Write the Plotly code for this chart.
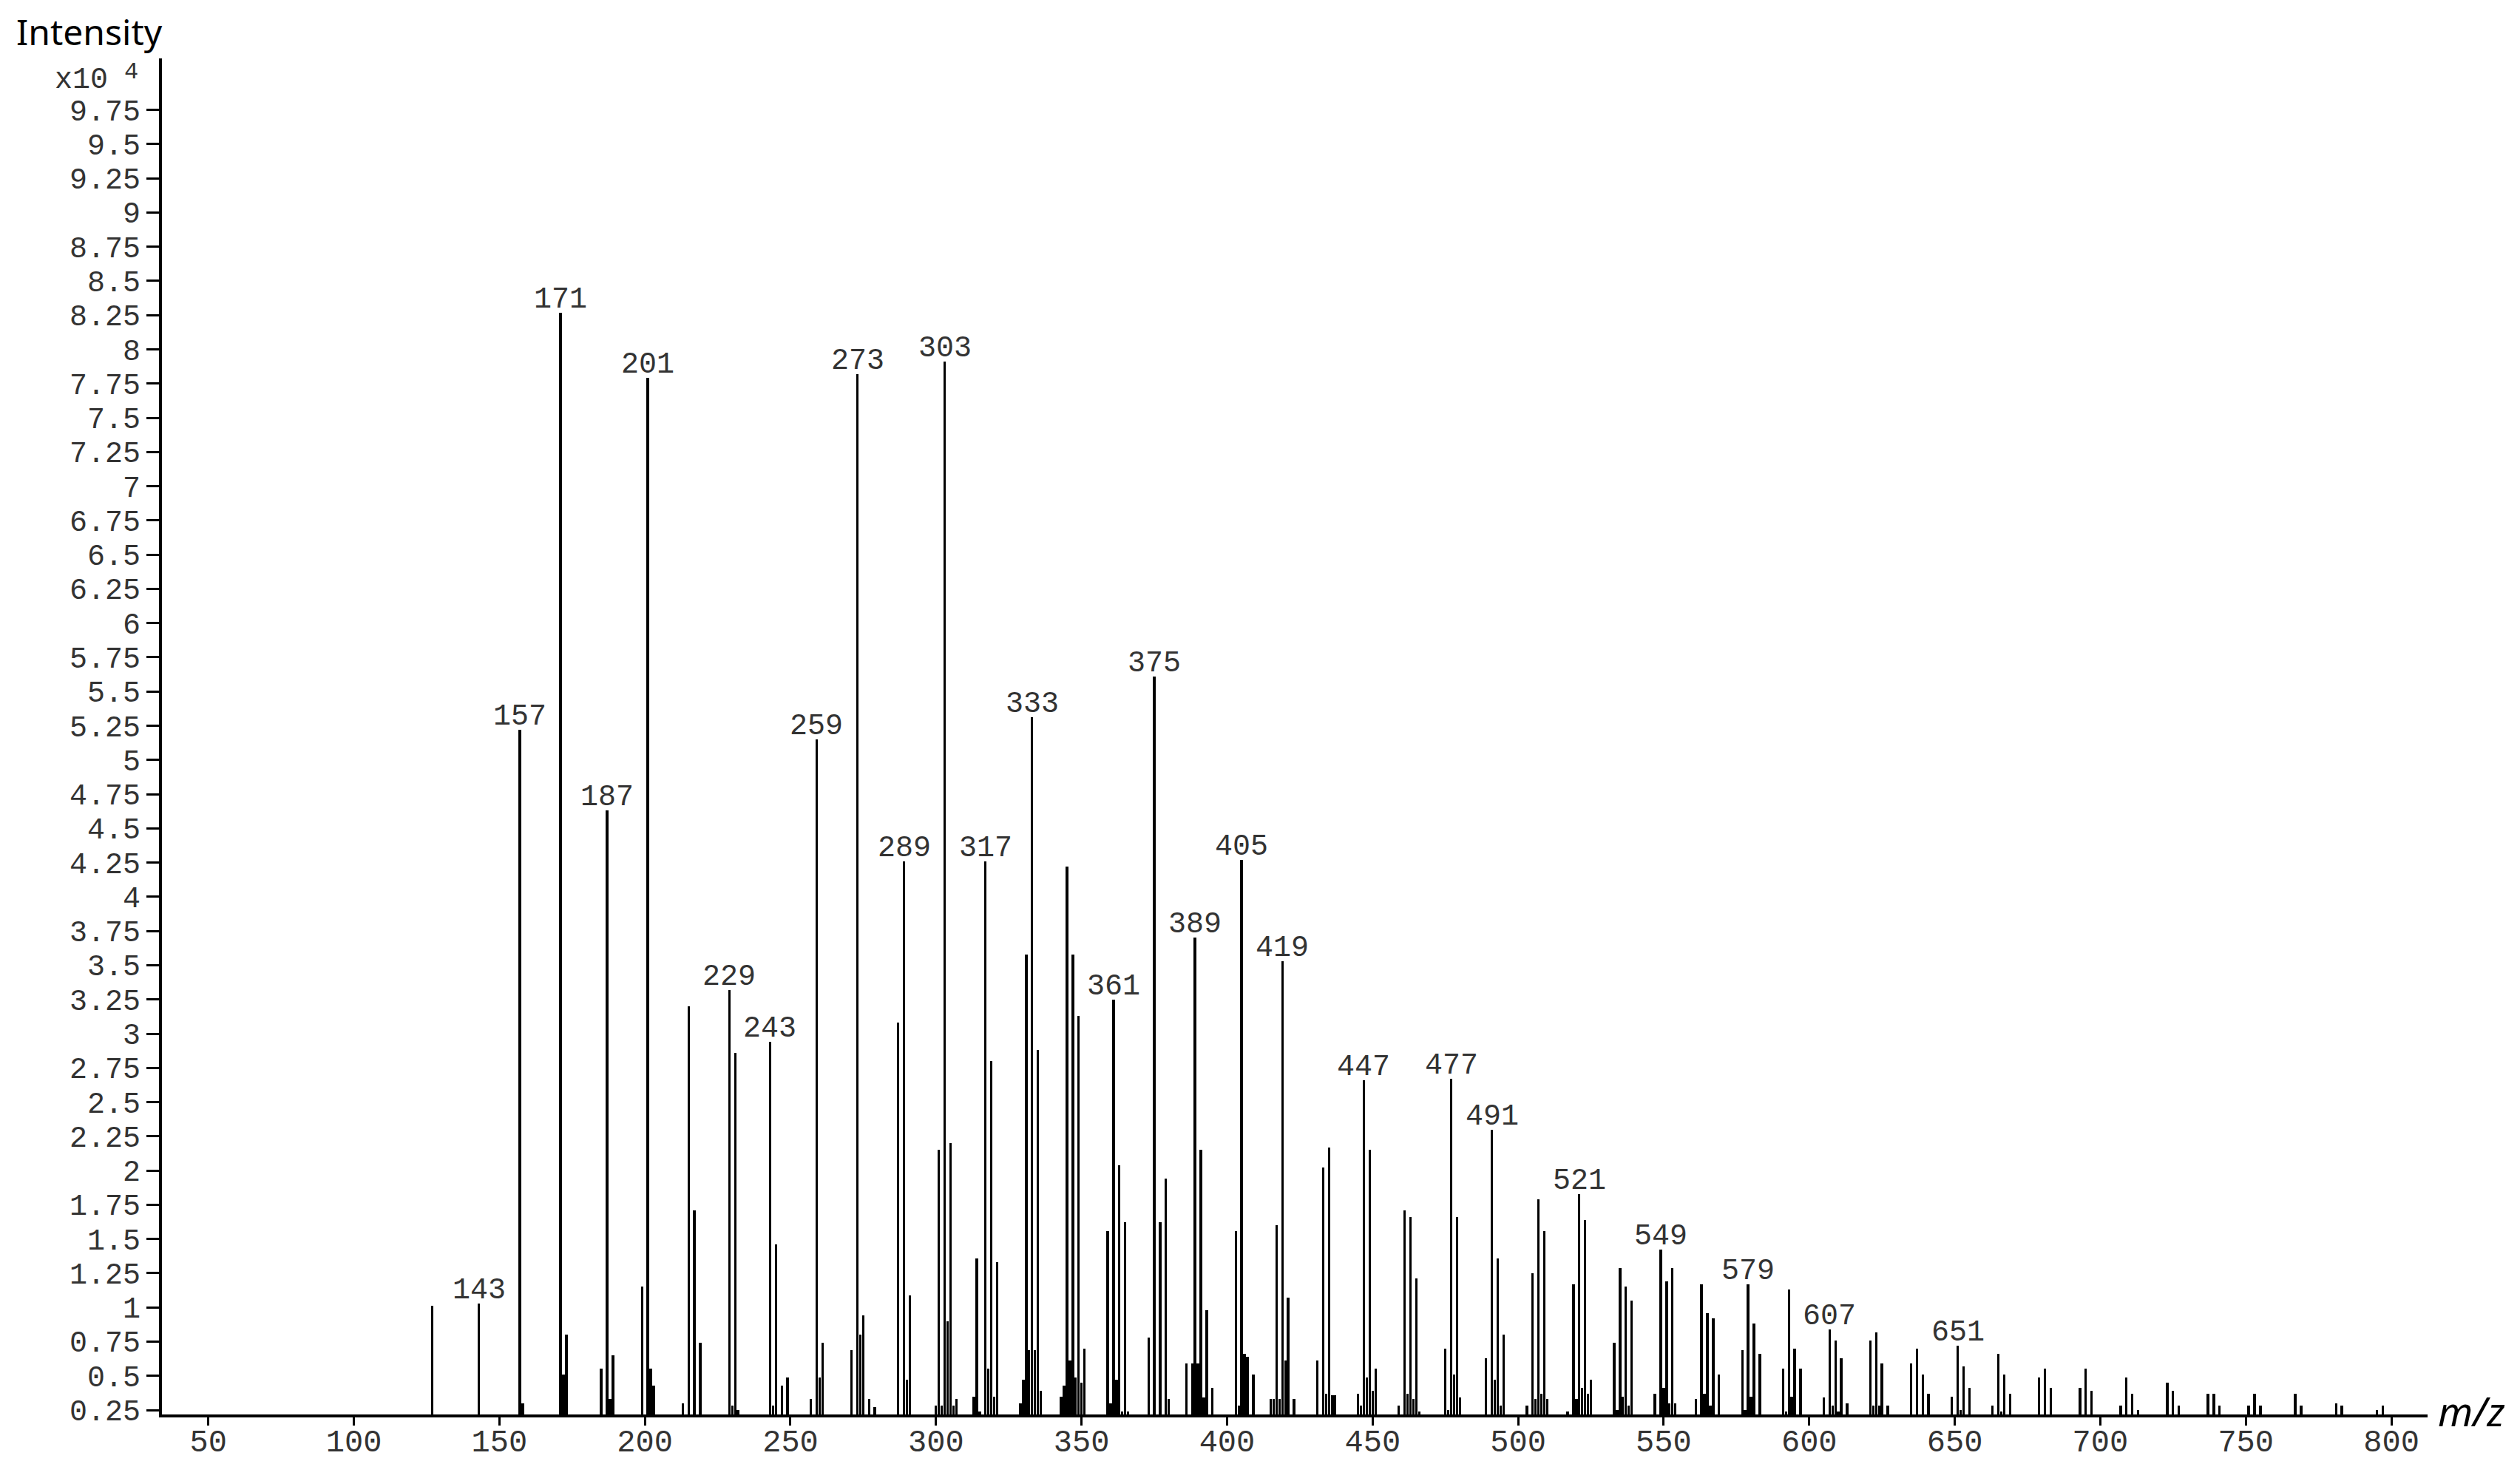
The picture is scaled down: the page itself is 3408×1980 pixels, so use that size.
import plotly.graph_objects as go

# ---- data (m/z, intensity in units of 1e4) ----
mz = [127, 143, 157, 158, 171, 172, 173, 185, 187, 188, 189, 199, 201, 202, 203,
      213, 215, 217, 219, 229, 230, 231, 232, 243, 244, 245, 247, 249, 257, 259,
      260, 261, 271, 273, 274, 275, 277, 279, 287, 289, 290, 291, 300, 301, 302,
      303, 304, 305, 306, 307, 313, 314, 315, 317, 318, 319, 320, 321, 329, 330,
      331, 332, 333, 334, 335, 336, 343, 344, 345, 346, 347, 348, 349, 350, 351,
      359, 360, 361, 362, 363, 364, 365, 366, 373, 375, 377, 379, 380, 386, 388,
      389, 390, 391, 392, 393, 395, 403, 404, 405, 406, 407, 409, 415, 416, 417,
      418, 419, 420, 421, 423, 431, 433, 434, 435, 436, 437, 445, 446, 447, 448,
      449, 450, 451, 459, 461, 462, 463, 464, 465, 466, 475, 476, 477, 478, 479,
      480, 489, 491, 492, 493, 494, 495, 503, 505, 506, 507, 508, 509, 510, 517,
      519, 520, 521, 522, 523, 524, 525, 533, 534, 535, 536, 537, 538, 539, 547,
      549, 550, 551, 552, 553, 554, 561, 563, 564, 565, 566, 567, 569, 577, 578,
      579, 580, 581, 583, 591, 592, 593, 594, 595, 597, 605, 607, 608, 609, 610,
      611, 613, 621, 622, 623, 624, 625, 627, 635, 637, 639, 641, 649, 651, 652,
      653, 655, 663, 665, 666, 667, 669, 679, 681, 683, 693, 695, 697, 707, 709,
      711, 713, 723, 725, 727, 737, 739, 741, 751, 753, 755, 767, 769, 781, 783,
      795, 797]
intensity = [1.01, 1.03, 5.22, 0.30, 8.27, 0.51, 0.80, 0.55, 4.63, 0.33, 0.65, 1.15, 7.79, 0.55, 0.43,
             0.30, 3.20, 1.71, 0.74, 3.32, 0.28, 2.86, 0.25, 2.94, 0.28, 1.46, 0.43, 0.49, 0.33, 5.15,
             0.49, 0.74, 0.69, 7.82, 0.80, 0.94, 0.33, 0.27, 3.08, 4.26, 0.47, 1.09, 0.28, 2.15, 0.28,
             7.91, 0.90, 2.20, 0.28, 0.33, 0.35, 1.36, 0.24, 4.26, 0.55, 2.80, 0.35, 1.33, 0.30, 0.47,
             3.58, 0.69, 5.31, 0.69, 2.88, 0.39, 0.35, 0.43, 4.22, 0.61, 3.58, 0.49, 3.13, 0.45, 0.70,
             1.56, 0.30, 3.25, 0.47, 2.04, 0.24, 1.62, 0.24, 0.78, 5.61, 1.62, 1.94, 0.33, 0.59, 0.59,
             3.70, 0.59, 2.15, 0.34, 0.98, 0.41, 1.56, 0.28, 4.27, 0.66, 0.64, 0.51, 0.33, 0.33, 1.60,
             0.33, 3.53, 0.61, 1.07, 0.33, 0.61, 2.02, 0.37, 2.17, 0.36, 0.36, 0.37, 0.28, 2.66, 0.49,
             2.15, 0.39, 0.55, 0.28, 1.71, 0.37, 1.66, 0.33, 1.21, 0.24, 0.70, 0.25, 2.67, 0.51, 1.66,
             0.34, 0.63, 2.30, 0.47, 1.36, 0.28, 0.80, 0.28, 1.25, 0.33, 1.79, 0.37, 1.56, 0.33, 0.24,
             1.17, 0.33, 1.83, 0.41, 1.64, 0.37, 0.47, 0.74, 0.25, 1.29, 0.35, 1.15, 0.28, 1.05, 0.37,
             1.42, 0.41, 1.19, 0.30, 1.29, 0.30, 0.33, 1.17, 0.37, 0.96, 0.28, 0.92, 0.51, 0.69, 0.25,
             1.17, 0.35, 0.88, 0.66, 0.55, 0.24, 1.13, 0.35, 0.70, 0.55, 0.34, 0.84, 0.28, 0.76, 0.24,
             0.63, 0.30, 0.76, 0.28, 0.82, 0.28, 0.59, 0.28, 0.59, 0.70, 0.51, 0.37, 0.35, 0.72, 0.25,
             0.57, 0.41, 0.28, 0.66, 0.24, 0.51, 0.37, 0.49, 0.55, 0.41, 0.41, 0.55, 0.39, 0.28, 0.49,
             0.37, 0.25, 0.45, 0.39, 0.28, 0.37, 0.37, 0.28, 0.28, 0.37, 0.28, 0.37, 0.28, 0.30, 0.28,
             0.25, 0.28]

labeled_mz = [143, 157, 171, 187, 201, 229, 243, 259, 273, 289, 303, 317, 333,
              361, 375, 389, 405, 419, 447, 477, 491, 521, 549, 579, 607, 651]

y_tickvals = [0.25, 0.5, 0.75, 1, 1.25, 1.5, 1.75, 2, 2.25, 2.5, 2.75, 3, 3.25, 3.5,
              3.75, 4, 4.25, 4.5, 4.75, 5, 5.25, 5.5, 5.75, 6, 6.25, 6.5, 6.75, 7,
              7.25, 7.5, 7.75, 8, 8.25, 8.5, 8.75, 9, 9.25, 9.5, 9.75]
y_ticktext = ["0.25", "0.5", "0.75", "1", "1.25", "1.5", "1.75", "2", "2.25", "2.5",
              "2.75", "3", "3.25", "3.5", "3.75", "4", "4.25", "4.5", "4.75", "5",
              "5.25", "5.5", "5.75", "6", "6.25", "6.5", "6.75", "7", "7.25", "7.5",
              "7.75", "8", "8.25", "8.5", "8.75", "9", "9.25", "9.5", "9.75"]
x_tickvals = [50, 100, 150, 200, 250, 300, 350, 400, 450, 500, 550, 600, 650, 700, 750, 800]
x_ticktext = ["50", "100", "150", "200", "250", "300", "350", "400", "450", "500",
              "550", "600", "650", "700", "750", "800"]

TXT = "#333333"
YTICK_FONT = dict(family="Liberation Mono", size=40, color=TXT)
XTICK_FONT = dict(family="Liberation Mono", size=42, color=TXT)
LABEL_FONT = dict(family="Liberation Mono", size=40, color=TXT)
TITLE_FONT = dict(family="Noto Sans", size=48, color="black")

fig = go.Figure()
fig.add_trace(go.Bar(x=mz, y=intensity, width=0.85,
                     marker=dict(color="black", line=dict(width=0)),
                     showlegend=False, hoverinfo="x+y"))

lookup = dict(zip(mz, intensity))
for m in labeled_mz:
    fig.add_annotation(x=m, y=lookup[m], text=str(m), showarrow=False,
                       xanchor="center", yanchor="bottom", yshift=-7,
                       font=LABEL_FONT)

# layout geometry (pixels); page body keeps its default 8px margin
W, H = 3392, 1980
KY = 2000.0 / 1980.0          # vertical page scale observed in the photograph
OFF = 8.0                     # body margin


def dy(target):               # target screen y -> figure y
    return target * KY - OFF


L, R = 211, 117
T = dy(78)
B = H - dy(1916)
pw, ph = W - L - R, H - T - B


def px(xp):
    return (xp - L) / pw


def py(yp):
    return (H - B - yp) / ph


fig.add_annotation(xref="paper", yref="paper", x=px(12), y=py(dy(41)), text="Intensity",
                   showarrow=False, xanchor="left", yanchor="middle", font=TITLE_FONT)
fig.add_annotation(xref="paper", yref="paper", x=px(140), y=py(dy(108)), text="x10",
                   showarrow=False, xanchor="right", yanchor="middle", font=YTICK_FONT)
fig.add_annotation(xref="paper", yref="paper", x=px(158), y=py(dy(97)), text="4",
                   showarrow=False, xanchor="left", yanchor="middle",
                   font=dict(family="Liberation Mono", size=32, color=TXT))
fig.add_annotation(xref="paper", yref="paper", x=px(3334), y=py(dy(1911)), text="<i>m/z</i>",
                   showarrow=False, xanchor="center", yanchor="middle",
                   font=dict(family="Noto Sans", size=54, color="black"))

fig.update_layout(
    width=W, height=H,
    margin=dict(l=L, r=R, t=T, b=B, pad=0),
    plot_bgcolor="white", paper_bgcolor="white",
    bargap=0,
    xaxis=dict(range=[34.07, 812.44], showgrid=False, zeroline=False,
               showline=True, linecolor="black", linewidth=4,
               ticks="outside", ticklen=11, tickwidth=3, tickcolor="black",
               ticklabelstandoff=-15,
               tickvals=x_tickvals, ticktext=x_ticktext, tickfont=XTICK_FONT),
    yaxis=dict(range=[0.2177, 10.126], showgrid=False, zeroline=False,
               showline=True, linecolor="black", linewidth=4,
               ticks="outside", ticklen=17, tickwidth=3, tickcolor="black",
               tickvals=y_tickvals, ticktext=y_ticktext, tickfont=YTICK_FONT),
)

fig.write_html("out.html")
